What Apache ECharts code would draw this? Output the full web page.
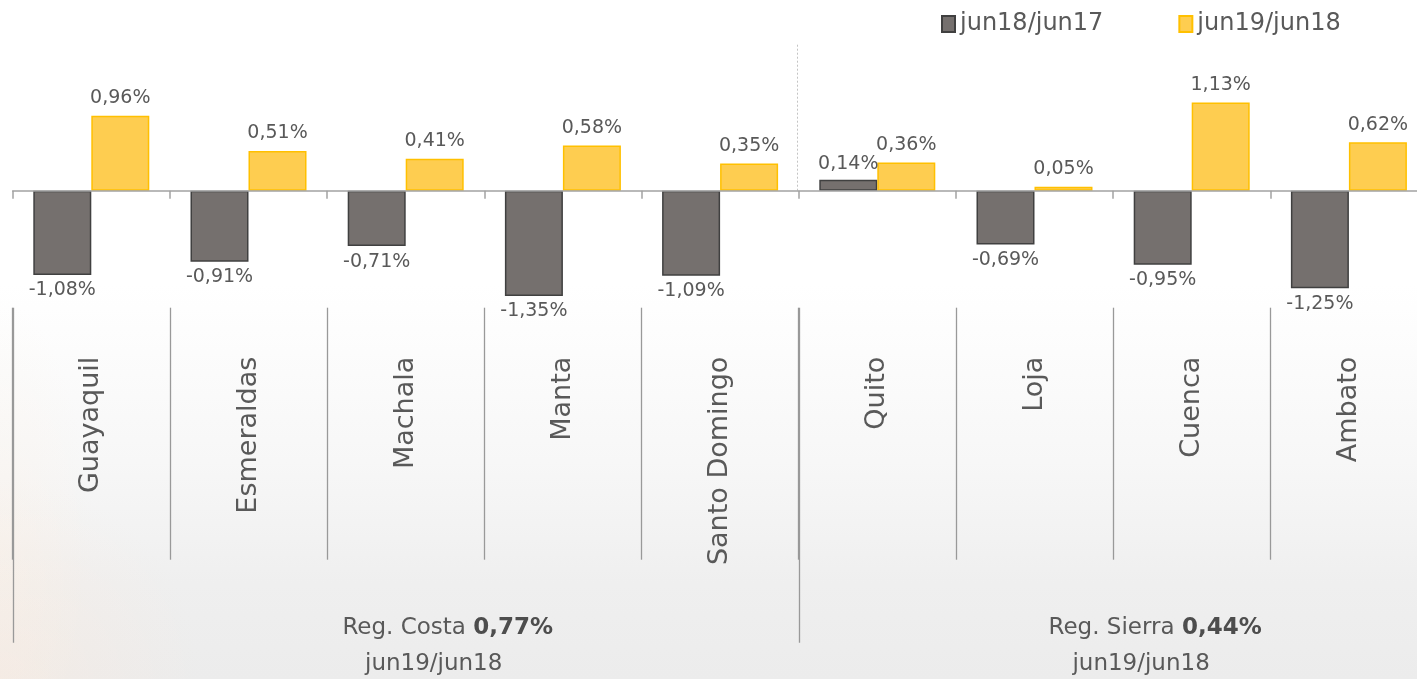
<!DOCTYPE html>
<html>
<head>
<meta charset="utf-8">
<script src="https://cdn.jsdelivr.net/npm/echarts@6/dist/echarts.min.js"></script>
<style>
html,body{margin:0;padding:0;width:1417px;height:679px;overflow:hidden;}
body{
  background:
    radial-gradient(ellipse 200px 200px at 0px 679px, rgba(255,232,215,0.35), rgba(255,232,215,0) 100%),
    radial-gradient(ellipse 90px 240px at 0px 540px, rgba(255,242,230,0.35), rgba(255,242,230,0) 100%),
    linear-gradient(to bottom, #ffffff 0%, #ffffff 42%, #f7f7f7 68%, #efefef 86%, #ececec 100%);
}
#chart{width:1417px;height:679px;}
</style>
</head>
<body>
<div id="chart"></div>
<script>
// ---- data ----
var categories = ['Guayaquil','Esmeraldas','Machala','Manta','Santo Domingo','Quito','Loja','Cuenca','Ambato'];
var seriesNames = ['jun18/jun17','jun19/jun18'];
var values1817 = [-1.08,-0.91,-0.71,-1.35,-1.09,0.14,-0.69,-0.95,-1.25];
var values1918 = [0.96,0.51,0.41,0.58,0.35,0.36,0.05,1.13,0.62];
var groupNames = ['Reg. Costa','Reg. Sierra'];
var groupValues = ['0,77%','0,44%'];
var groupSubtitle = 'jun19/jun18';
var groupStart = [0,5];
var groupEnd = [5,9];

var FONT = '"DejaVu Sans", sans-serif';
var TXT = '#595959';

function fmt(v){ return v.toFixed(2).replace('.', ',') + '%'; }
function barData(arr){
  return arr.map(function(v){
    return {value: v, label: {position: v < 0 ? 'bottom' : 'top'}};
  });
}

var boundaries = [];
for (var g = 0; g < groupStart.length; g++) {
  if (boundaries.indexOf(groupStart[g]) < 0) boundaries.push(groupStart[g]);
  if (boundaries.indexOf(groupEnd[g]) < 0) boundaries.push(groupEnd[g]);
}

var chart = echarts.init(document.getElementById('chart'), null, {renderer:'canvas'});

var option = {
  backgroundColor: 'transparent',
  animation: false,
  textStyle: {fontFamily: FONT},
  legend: {
    left: 941, top: 12, padding: 0,
    icon: 'rect',
    itemWidth: 13, itemHeight: 16, itemGap: 75,
    textStyle: {fontFamily: FONT, fontSize: 24, color: TXT, padding: [0,0,0,0]},
    data: seriesNames
  },
  grid: {left: 12.7, right: -10.5, top: 34.7, bottom: 371.3, containLabel: false, outerBoundsMode: 'none'},
  xAxis: [
    {
      type: 'category', data: categories, gridIndex: 0, z: 5,
      axisLine: {show: true, onZero: true, lineStyle: {color: '#a3a3a3', width: 1.5}},
      axisTick: {show: true, length: 8, lineStyle: {color: '#a3a3a3', width: 1.5}},
      axisLabel: {show: false}, splitLine: {show: false}
    },
    {
      type: 'category', data: categories, gridIndex: 0, position: 'bottom',
      axisLine: {show: false, onZero: false},
      axisTick: {show: true, length: 252, lineStyle: {color: '#999999', width: 1.3}},
      axisLabel: {show: true, rotate: 90, interval: 0, margin: 49, fontFamily: FONT, fontSize: 27, color: TXT, hideOverlap: false},
      splitLine: {show: false}
    },
    {
      type: 'value', gridIndex: 0, min: 0, max: categories.length, show: false
    }
  ],
  yAxis: [
    {type: 'value', min: -1.5, max: 2.0, interval: 0.5, show: false, splitLine: {show: false}}
  ],
  series: [
    {
      name: seriesNames[0], type: 'bar', xAxisIndex: 0, yAxisIndex: 0,
      data: barData(values1817), barWidth: 58, barGap: '0%',
      itemStyle: {color: '#75706e', borderColor: '#404040', borderWidth: 1.5},
      label: {show: true, distance: 6, fontFamily: FONT, fontSize: 19, color: TXT,
        formatter: function(p){ return fmt(p.value); }}
    },
    {
      name: seriesNames[1], type: 'bar', xAxisIndex: 0, yAxisIndex: 0,
      data: barData(values1918), barWidth: 58, barGap: '0%',
      itemStyle: {color: '#fecd50', borderColor: '#ffc000', borderWidth: 1.5},
      label: {show: true, distance: 8, fontFamily: FONT, fontSize: 19, color: TXT,
        formatter: function(p){ return fmt(p.value); }}
    },
    {
      type: 'custom', xAxisIndex: 2, yAxisIndex: 0, clip: false, silent: true, z: 1,
      data: boundaries.map(function(b){ return [b]; }),
      renderItem: function(params, api){
        var b = api.value(0);
        var p0 = api.coord([b, 0]);
        var pb = api.coord([b, -1.5]);
        var x = Math.round(p0[0]) + 0.5;
        var children = [{
          type: 'line',
          shape: {x1: x, y1: pb[1], x2: x, y2: pb[1] + 335},
          style: {stroke: '#999999', lineWidth: 1.3}
        }];
        if (b > 0 && b < categories.length) {
          children.push({
            type: 'line',
            shape: {x1: x - 2, y1: p0[1] - 146, x2: x - 2, y2: p0[1]},
            style: {stroke: '#c4c4c4', lineWidth: 1, lineDash: [2, 2]}
          });
        }
        return {type: 'group', children: children};
      }
    },
    {
      type: 'custom', xAxisIndex: 2, yAxisIndex: 0, clip: false, silent: true, z: 3,
      data: groupNames.map(function(n, i){ return [(groupStart[i] + groupEnd[i]) / 2, i]; }),
      renderItem: function(params, api){
        var c = api.value(0);
        var i = api.value(1);
        var pb = api.coord([c, -1.5]);
        return {
          type: 'group',
          children: [
            {
              type: 'text',
              style: {
                x: pb[0] + 42, y: pb[1] + 320,
                text: '{n|' + groupNames[i] + ' }{v|' + groupValues[i] + '}',
                rich: {
                  n: {fontFamily: FONT, fontSize: 23, fill: TXT, color: TXT},
                  v: {fontFamily: FONT, fontSize: 23, fontWeight: 'bold', fill: '#4d4d4d', color: '#4d4d4d'}
                },
                align: 'center', verticalAlign: 'middle'
              }
            },
            {
              type: 'text',
              style: {
                x: pb[0] + 28, y: pb[1] + 356,
                text: groupSubtitle,
                font: '23px ' + FONT, fill: TXT,
                align: 'center', verticalAlign: 'middle'
              }
            }
          ]
        };
      }
    }
  ]
};
chart.setOption(option);
</script>
</body>
</html>
